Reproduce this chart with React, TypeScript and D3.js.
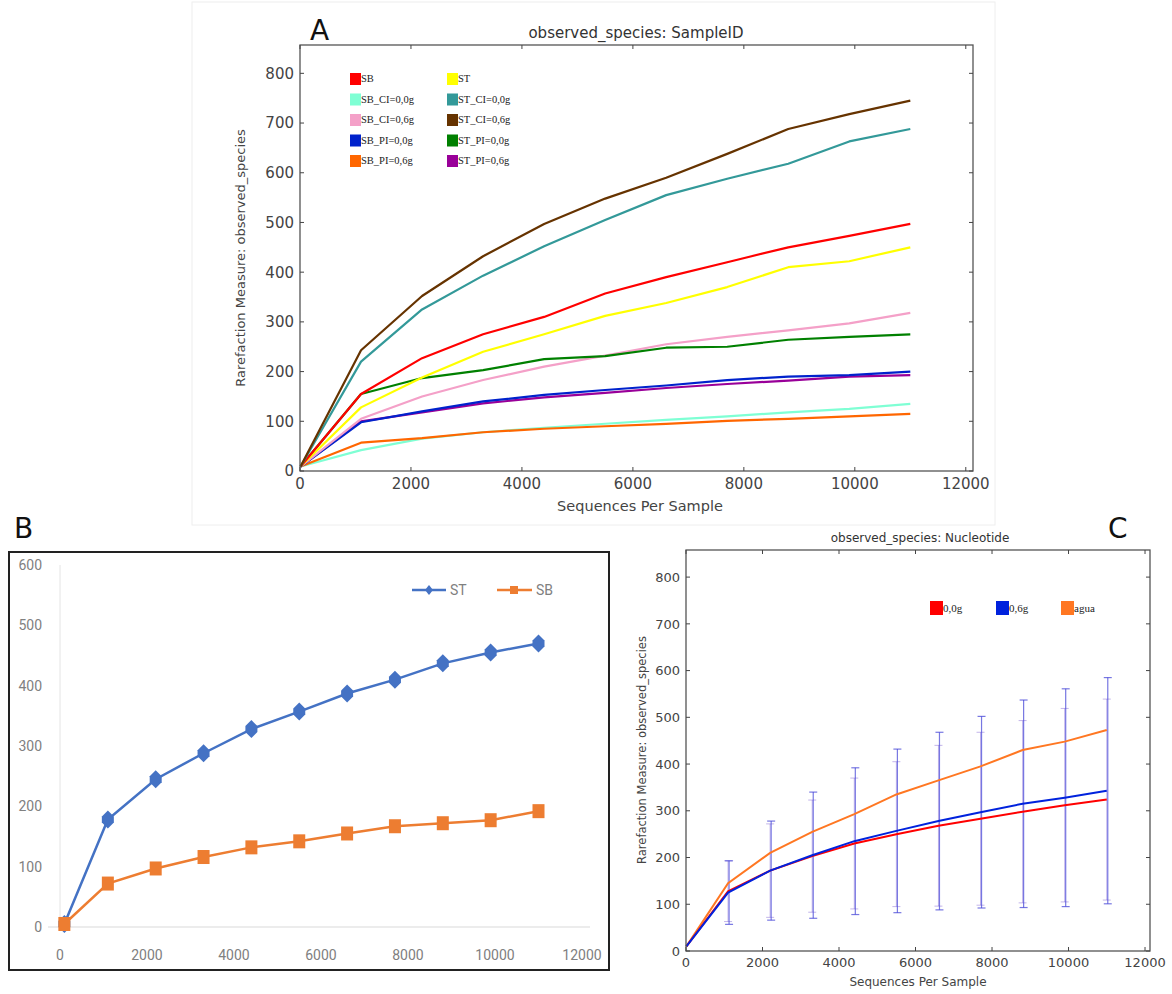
import React from "react";
import * as d3 from "d3";

// ---------- Panel A data ----------
const xA = [10, 1100, 2200, 3300, 4400, 5500, 6600, 7700, 8800, 9900, 11000];
const seriesA_names = ["SB", "ST", "SB_CI=0,0g", "ST_CI=0,0g", "SB_CI=0,6g", "ST_CI=0,6g", "SB_PI=0,0g", "ST_PI=0,0g", "SB_PI=0,6g", "ST_PI=0,6g"];
const seriesA_colors = ["#ff0000", "#ffff00", "#7fffd4", "#339999", "#f4a0c8", "#663300", "#0022cc", "#008000", "#ff6600", "#990099"];
const SB = [9, 155, 227, 275, 310, 357, 390, 420, 450, 473, 497];
const ST = [9, 128, 188, 240, 275, 312, 338, 370, 410, 422, 450];
const SB_CI00 = [9, 42, 65, 78, 87, 95, 103, 110, 118, 125, 135];
const ST_CI00 = [9, 220, 325, 393, 452, 505, 555, 588, 618, 663, 688];
const SB_CI06 = [9, 105, 150, 183, 210, 232, 255, 270, 283, 297, 318];
const ST_CI06 = [9, 243, 352, 432, 497, 548, 590, 638, 688, 718, 745];
const SB_PI00 = [9, 98, 120, 140, 153, 163, 172, 183, 190, 193, 200];
const ST_PI00 = [9, 155, 187, 203, 225, 231, 248, 250, 264, 270, 275];
const SB_PI06 = [9, 57, 66, 78, 85, 90, 95, 101, 105, 110, 115];
const ST_PI06 = [9, 100, 118, 136, 148, 157, 167, 175, 182, 190, 193];
const seriesA_values = [SB, ST, SB_CI00, ST_CI00, SB_CI06, ST_CI06, SB_PI00, ST_PI00, SB_PI06, ST_PI06];
// drawing order (back to front)
const drawOrderA = [2, 8, 9, 6, 4, 7, 1, 0, 3, 5];

// ---------- Panel B data ----------
const xB = [100, 1100, 2200, 3300, 4400, 5500, 6600, 7700, 8800, 9900, 11000];
const B_ST = [5, 178, 245, 288, 328, 357, 387, 410, 437, 455, 470];
const B_SB = [5, 72, 97, 116, 132, 142, 155, 167, 172, 177, 192];

// ---------- Panel C data ----------
const xC = [10, 1100, 2200, 3300, 4400, 5500, 6600, 7700, 8800, 9900, 11000];
const C_00 = [10, 128, 172, 203, 230, 250, 268, 283, 298, 312, 324];
const C_06 = [10, 125, 172, 205, 235, 257, 278, 297, 315, 328, 343];
const C_agua = [10, 145, 210, 255, 293, 335, 365, 395, 430, 448, 473];
const C_00_err = [0, 65, 100, 120, 140, 155, 172, 185, 195, 207, 215];
const C_06_err = [0, 68, 106, 135, 157, 175, 190, 205, 222, 233, 242];
const C_names = ["0,0g", "0,6g", "agua"];
const C_colors = ["#ff0000", "#0022dd", "#ff7722"];

const xTicks = [0, 2000, 4000, 6000, 8000, 10000, 12000];
const yTicksA = [0, 100, 200, 300, 400, 500, 600, 700, 800];
const yTicksB = [0, 100, 200, 300, 400, 500, 600];

const mplFont = "'DejaVu Sans', sans-serif";

function MplAxes({ x, y, fontSize, yTicks }: any) {
  const [x0, x1] = x.range();
  const [y0, y1] = y.range();
  return (
    <g>
      <rect x={x0} y={y1} width={x1 - x0} height={y0 - y1} fill="none" stroke="#555" strokeWidth={1.3} />
      {xTicks.map((t) => (
        <g key={"xt" + t}>
          <line x1={x(t)} x2={x(t)} y1={y0} y2={y0 - 4} stroke="#444" />
          <line x1={x(t)} x2={x(t)} y1={y1} y2={y1 + 4} stroke="#444" />
          <text x={x(t)} y={y0 + fontSize + 3} textAnchor="middle" fontSize={fontSize} fill="#444" fontFamily={mplFont}>{t}</text>
        </g>
      ))}
      {yTicks.map((t: number) => (
        <g key={"yt" + t}>
          <line x1={x0} x2={x0 + 4} y1={y(t)} y2={y(t)} stroke="#444" />
          <line x1={x1} x2={x1 - 4} y1={y(t)} y2={y(t)} stroke="#444" />
          <text x={x0 - 6} y={y(t) + fontSize * 0.36} textAnchor="end" fontSize={fontSize} fill="#444" fontFamily={mplFont}>{t}</text>
        </g>
      ))}
    </g>
  );
}

export default function App() {
  // Panel A scales
  const xa = d3.scaleLinear().domain([0, 12130]).range([300, 973]);
  const ya = d3.scaleLinear().domain([0, 857]).range([471, 45]);
  const lineA = (vals: number[]) =>
    d3.line<number>().x((_, i) => xa(xA[i])).y((v) => ya(v))(vals) as string;

  // Panel B scales
  const xb = d3.scaleLinear().domain([0, 12000]).range([60, 582]);
  const yb = d3.scaleLinear().domain([0, 600]).range([927, 565]);
  const lineB = (vals: number[]) =>
    d3.line<number>().x((_, i) => xb(xB[i])).y((v) => yb(v))(vals) as string;

  // Panel C scales
  const xc = d3.scaleLinear().domain([0, 12130]).range([686, 1150]);
  const yc = d3.scaleLinear().domain([0, 858]).range([951, 550]);
  const lineC = (vals: number[]) =>
    d3.line<number>().x((_, i) => xc(xC[i])).y((v) => yc(v))(vals) as string;

  return (
    <svg width={1172} height={994} style={{ position: "absolute", left: 0, top: 0, background: "#fff" }}>
      {/* ================= Panel A ================= */}
      <rect x={192} y={2} width={803} height={523} fill="none" stroke="#eeeeee" />
      <text x={310} y={40} fontSize={28} fontFamily={mplFont} fill="#111">A</text>
      <text x={636} y={38} textAnchor="middle" fontSize={15} fontFamily={mplFont} fill="#333">observed_species: SampleID</text>
      {drawOrderA.map((k) => (
        <path key={"la" + k} d={lineA(seriesA_values[k])} fill="none" stroke={seriesA_colors[k]} strokeWidth={2.2} strokeLinejoin="round" />
      ))}
      <MplAxes x={xa} y={ya} fontSize={15} yTicks={yTicksA} />
      <text x={640} y={511} textAnchor="middle" fontSize={14.5} fontFamily={mplFont} fill="#444">Sequences Per Sample</text>
      <text transform={`translate(245,258) rotate(-90)`} textAnchor="middle" fontSize={13} fontFamily={mplFont} fill="#444">Rarefaction Measure: observed_species</text>
      {seriesA_names.map((n, i) => {
        const col = i % 2;
        const row = Math.floor(i / 2);
        const lx = col === 0 ? 350 : 447;
        const ly = 73 + row * 20.5;
        return (
          <g key={"lg" + i}>
            <rect x={lx} y={ly} width={11} height={12} fill={seriesA_colors[i]} />
            <text x={lx + 11} y={ly + 9} fontSize={10.5} fontFamily="'Liberation Serif', serif" fill="#222">{n}</text>
          </g>
        );
      })}

      {/* ================= Panel B ================= */}
      <text x={14} y={538} fontSize={28} fontFamily={mplFont} fill="#111">B</text>
      <rect x={9} y={552} width={600} height={418} fill="none" stroke="#222" strokeWidth={2} />
      <line x1={xb(0)} x2={xb(0)} y1={yb(600)} y2={yb(0)} stroke="#e4e4e4" />
      <line x1={xb(0) - 12} x2={xb(12000) + 8} y1={yb(0)} y2={yb(0)} stroke="#d9d9d9" />
      {yTicksB.map((t) => (
        <text key={"yb" + t} x={42} y={yb(t) + 5} textAnchor="end" fontSize={14} fontFamily="Roboto, sans-serif" fill="#808080">{t}</text>
      ))}
      {xTicks.map((t) => (
        <text key={"xb" + t} x={xb(t)} y={960} textAnchor="middle" fontSize={14} fontFamily="Roboto, sans-serif" fill="#808080">{t}</text>
      ))}
      <path d={lineB(B_SB)} fill="none" stroke="#ed7d31" strokeWidth={2.5} />
      <path d={lineB(B_ST)} fill="none" stroke="#4472c4" strokeWidth={2.5} />
      {B_ST.map((v, i) => {
        const cx = xb(xB[i]);
        const cy = yb(v);
        return <path key={"bd" + i} d={`M${cx},${cy - 9} L${cx + 6},${cy - 3} L${cx + 6},${cy + 3} L${cx},${cy + 9} L${cx - 6},${cy + 3} L${cx - 6},${cy - 3} Z`} fill="#4472c4" />;
      })}
      {B_SB.map((v, i) => {
        const cx = xb(xB[i]);
        const cy = yb(v);
        return <rect key={"bs" + i} x={cx - 6} y={cy - 7} width={12} height={14} fill="#ed7d31" />;
      })}
      <line x1={412} x2={446} y1={590} y2={590} stroke="#4472c4" strokeWidth={2.5} />
      <path d="M429,585 L433,590 L429,595 L425,590 Z" fill="#4472c4" />
      <text x={450} y={595} fontSize={14} fontFamily="Roboto, sans-serif" fill="#808080">ST</text>
      <line x1={497} x2={532} y1={590} y2={590} stroke="#ed7d31" strokeWidth={2.5} />
      <rect x={510} y={586} width={8} height={8} fill="#ed7d31" />
      <text x={536} y={595} fontSize={14} fontFamily="Roboto, sans-serif" fill="#808080">SB</text>

      {/* ================= Panel C ================= */}
      <text x={1108} y={538} fontSize={28} fontFamily={mplFont} fill="#111">C</text>
      <text x={920} y={542} textAnchor="middle" fontSize={12} fontFamily={mplFont} fill="#333">observed_species: Nucleotide</text>
      {/* error bars */}
      {C_00_err.map((e, i) =>
        e > 0 ? (
          <g key={"e0" + i} stroke="#7a5ad0" strokeOpacity={0.45} strokeWidth={1}>
            <line x1={xc(xC[i])} x2={xc(xC[i])} y1={yc(C_00[i] - e)} y2={yc(C_00[i] + e)} />
            <line x1={xc(xC[i]) - 4} x2={xc(xC[i]) + 4} y1={yc(C_00[i] - e)} y2={yc(C_00[i] - e)} />
            <line x1={xc(xC[i]) - 4} x2={xc(xC[i]) + 4} y1={yc(C_00[i] + e)} y2={yc(C_00[i] + e)} />
          </g>
        ) : null
      )}
      {C_06_err.map((e, i) =>
        e > 0 ? (
          <g key={"e6" + i} stroke="#4a4ad8" strokeOpacity={0.75} strokeWidth={1.2}>
            <line x1={xc(xC[i]) + 1} x2={xc(xC[i]) + 1} y1={yc(C_06[i] - e)} y2={yc(C_06[i] + e)} />
            <line x1={xc(xC[i]) - 3} x2={xc(xC[i]) + 5} y1={yc(C_06[i] - e)} y2={yc(C_06[i] - e)} />
            <line x1={xc(xC[i]) - 3} x2={xc(xC[i]) + 5} y1={yc(C_06[i] + e)} y2={yc(C_06[i] + e)} />
          </g>
        ) : null
      )}
      <path d={lineC(C_agua)} fill="none" stroke={C_colors[2]} strokeWidth={2} />
      <path d={lineC(C_00)} fill="none" stroke={C_colors[0]} strokeWidth={2} />
      <path d={lineC(C_06)} fill="none" stroke={C_colors[1]} strokeWidth={2} />
      <MplAxes x={xc} y={yc} fontSize={13} yTicks={yTicksA} />
      <text x={918} y={986} textAnchor="middle" fontSize={12} fontFamily={mplFont} fill="#444">Sequences Per Sample</text>
      <text transform={`translate(646,750) rotate(-90)`} textAnchor="middle" fontSize={11.5} fontFamily={mplFont} fill="#444">Rarefaction Measure: observed_species</text>
      {C_names.map((n, i) => {
        const lx = [930, 996, 1061][i];
        return (
          <g key={"lc" + i}>
            <rect x={lx} y={601} width={13} height={14} fill={C_colors[i]} />
            <text x={lx + 13} y={612} fontSize={11} fontFamily="'Liberation Serif', serif" fill="#222">{n}</text>
          </g>
        );
      })}
    </svg>
  );
}
